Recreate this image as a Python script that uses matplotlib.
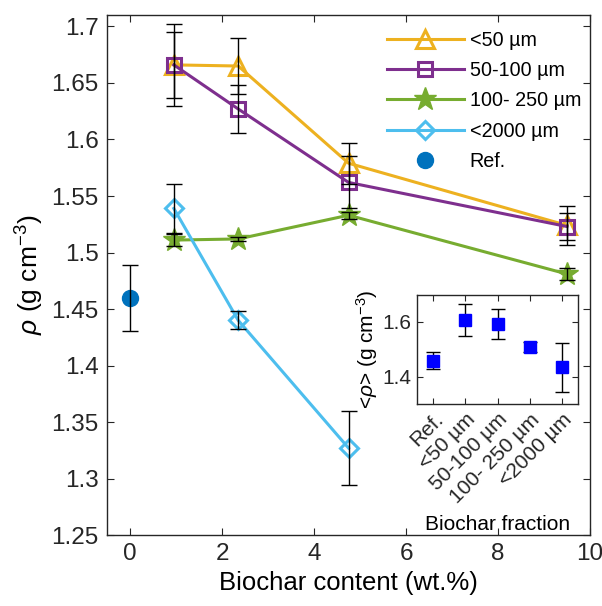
import matplotlib
matplotlib.use("Agg")
import matplotlib.pyplot as plt

plt.rcParams['font.family'] = ['Liberation Sans', 'DejaVu Sans']
plt.rcParams['mathtext.fontset'] = 'custom'
plt.rcParams['mathtext.rm'] = 'Liberation Sans'
plt.rcParams['mathtext.it'] = 'Liberation Sans:italic'

# biochar content (wt.%) for the amended samples
content = [0.95, 2.35, 4.75, 9.5]
content_2000 = [0.95, 2.35, 4.75]

rho_50 = [1.666, 1.665, 1.579, 1.524]
err_50 = [0.036, 0.025, 0.018, 0.017]
rho_50_100 = [1.666, 1.627, 1.562, 1.523]
err_50_100 = [0.029, 0.021, 0.023, 0.012]
rho_100_250 = [1.511, 1.512, 1.533, 1.481]
err_100_250 = [0.005, 0.002, 0.003, 0.005]
rho_2000 = [1.539, 1.440, 1.327]
err_2000 = [0.022, 0.008, 0.033]
rho_ref = 1.46
err_ref = 0.029

# mean density per fraction (inset)
fractions = ['Ref.', '<50 µm', '50-100 µm', '100- 250 µm', '<2000 µm']
rho_mean = [1.459, 1.606, 1.594, 1.508, 1.434]
err_mean = [0.031, 0.059, 0.055, 0.018, 0.088]

c_orange = '#EDB120'
c_purple = '#7E2F8E'
c_green = '#77AC30'
c_cyan = '#4DBEEE'
c_ref = '#0072BD'
spine_c = '#262626'

fig = plt.figure(figsize=(6.02, 6.06), dpi=100)
ax = fig.add_axes([0.178, 0.117, 0.802, 0.858])

lw = 2.2
ax.plot(content, rho_50, '-^', color=c_orange, lw=lw, ms=13, mew=2.2,
        mfc='none', label='<50 µm')
ax.plot(content, rho_50_100, '-s', color=c_purple, lw=lw, ms=9.5, mew=2.2,
        mfc='none', label='50-100 µm')
ax.plot(content, rho_100_250, '-*', color=c_green, lw=lw, ms=17,
        label='100- 250 µm')
ax.plot(content_2000, rho_2000, '-D', color=c_cyan, lw=lw, ms=9.5, mew=2.2,
        mfc='none', label='<2000 µm')
ax.plot([0], [rho_ref], 'o', color=c_ref, ms=11.5, label='Ref.')

eb = dict(fmt='none', ecolor='black', elinewidth=1.0, capsize=5.5,
          capthick=1.0, zorder=5)
ax.errorbar(content, rho_50, yerr=err_50, **eb)
ax.errorbar(content, rho_50_100, yerr=err_50_100, **eb)
ax.errorbar(content, rho_100_250, yerr=err_100_250, **eb)
ax.errorbar(content_2000, rho_2000, yerr=err_2000, **eb)
ax.errorbar([0], [rho_ref], yerr=[err_ref], **eb)

ax.set_xlim(-0.5, 10)
ax.set_ylim(1.25, 1.71)
ax.set_xticks([0, 2, 4, 6, 8, 10])
ax.set_yticks([1.25, 1.3, 1.35, 1.4, 1.45, 1.5, 1.55, 1.6, 1.65, 1.7])
ax.set_yticklabels(['1.25', '1.3', '1.35', '1.4', '1.45', '1.5', '1.55',
                    '1.6', '1.65', '1.7'])
ax.tick_params(direction='in', top=True, right=True, length=5,
               labelsize=17.5, colors=spine_c, pad=6)
for s in ax.spines.values():
    s.set_color(spine_c)
    s.set_linewidth(1.0)
ax.set_xlabel('Biochar content (wt.%)', fontsize=18.5, labelpad=4)
ax.set_ylabel(r'$\rho$ (g cm$^{-3}$)', fontsize=19, labelpad=4)

ax.legend(loc='upper right', bbox_to_anchor=(1.01, 0.997), frameon=False,
          fontsize=14.2, handlelength=3.9, handletextpad=0.3,
          labelspacing=0.58, numpoints=1, borderaxespad=0.3)

# inset: mean density per fraction
ins = fig.add_axes([0.693, 0.333, 0.2674, 0.181])
ins.errorbar(range(1, 6), rho_mean, yerr=err_mean, fmt='s', color='#0000FF',
             ms=9, ecolor='black', elinewidth=1.0, capsize=5, capthick=1.0)
ins.set_xlim(0.5, 5.5)
ins.set_ylim(1.3, 1.7)
ins.set_yticks([1.4, 1.6])
ins.set_xticks(range(1, 6))
ins.set_xticklabels(fractions, rotation=45, ha='right',
                    rotation_mode='anchor')
ins.tick_params(direction='in', top=True, right=True, length=4,
                labelsize=15, colors=spine_c, pad=4)
for s in ins.spines.values():
    s.set_color(spine_c)
    s.set_linewidth(1.0)
ins.set_xlabel('Biochar fraction', fontsize=15, labelpad=6)
ins.set_ylabel(r'<$\rho$> (g cm$^{-3}$)', fontsize=15, labelpad=2)

fig.savefig('out.png', dpi=100)
